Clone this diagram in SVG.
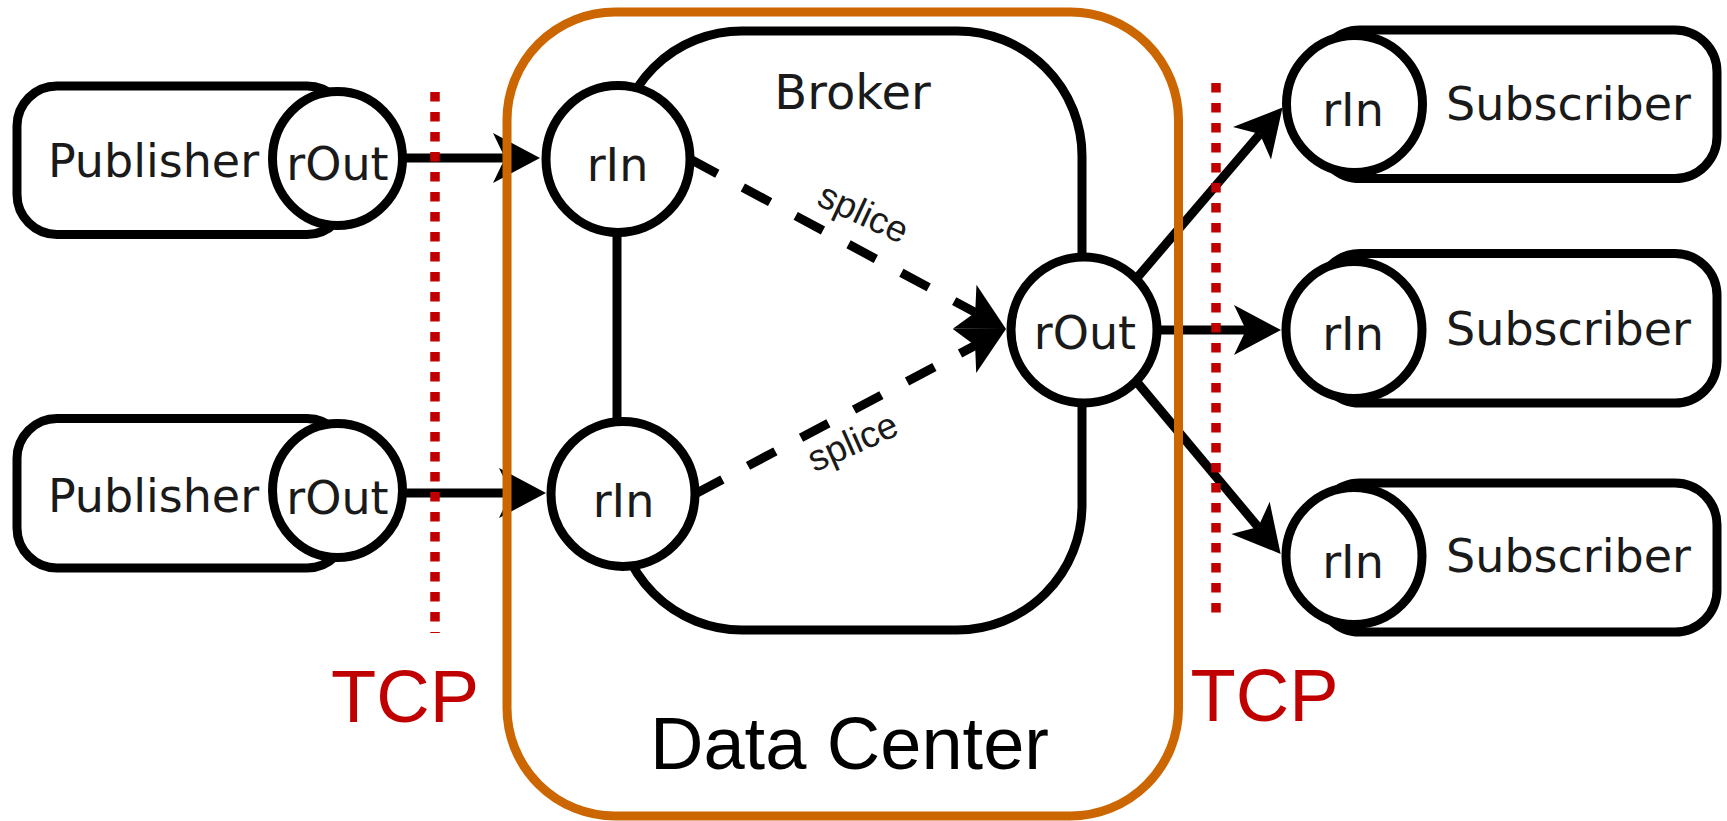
<svg xmlns="http://www.w3.org/2000/svg" width="1727" height="821" viewBox="0 0 1727 821">
  <style>
    .box { fill: #ffffff; stroke: #000000; stroke-width: 9; }
    .port { fill: #ffffff; stroke: #000000; stroke-width: 9; }
    .lbl { font-family: "DejaVu Sans", Verdana, sans-serif; font-size: 46px; fill: #1a1a1a; text-anchor: middle; }
    .edge { fill: none; stroke: #000000; stroke-width: 9; }
    .dash { stroke-dasharray: 31 29; }
    .splice { font-family: "Liberation Sans", Arial, sans-serif; font-size: 37px; fill: #1a1a1a; text-anchor: middle; }
    .tcp { fill: none; stroke: #C00000; stroke-width: 9.5; stroke-dasharray: 9.5 10.5; }
    .tcplbl { font-family: "Liberation Sans", Arial, sans-serif; font-size: 74px; fill: #C00000; text-anchor: middle; }
    .dc { fill: none; stroke: #CC6600; stroke-width: 9; }
    .dclbl { font-family: "Liberation Sans", Arial, sans-serif; font-size: 74px; fill: #000000; text-anchor: middle; }
  </style>
  <defs>
    <marker id="arrow" markerUnits="userSpaceOnUse" markerWidth="60" markerHeight="60" refX="0" refY="0" orient="auto" overflow="visible">
      <path d="M35,0 L-12,-25 L0,0 L-12,25 Z" fill="#000000" stroke="none"/>
    </marker>
  </defs>
  <rect x="0" y="0" width="1727" height="821" fill="#ffffff"/>

  <g id="publisher1">
    <rect class="box" x="17" y="86" width="330" height="148.5" rx="40"/>
    <text class="lbl" x="153.5" y="177">Publisher</text>
    <ellipse class="port" cx="337.5" cy="158.5" rx="65" ry="67"/>
    <text class="lbl" x="337.5" y="180">rOut</text>
  </g>
  <g id="publisher2">
    <rect class="box" x="17" y="418.5" width="330" height="149.5" rx="40"/>
    <text class="lbl" x="153.5" y="512">Publisher</text>
    <ellipse class="port" cx="337.5" cy="490.5" rx="65" ry="67"/>
    <text class="lbl" x="337.5" y="514">rOut</text>
  </g>

  <g id="broker">
    <rect class="box" x="617" y="31" width="465" height="599" rx="125"/>
    <text class="lbl" x="852.5" y="109" style="font-size:48px">Broker</text>
  </g>
  <g id="broker-rIn1">
    <ellipse class="port" cx="618" cy="159" rx="72" ry="73.5"/>
    <text class="lbl" x="617.5" y="181">rIn</text>
  </g>
  <g id="broker-rIn2">
    <ellipse class="port" cx="623" cy="494" rx="72" ry="72.5"/>
    <text class="lbl" x="623.5" y="517">rIn</text>
  </g>
  <g id="broker-rOut">
    <ellipse class="port" cx="1084" cy="330" rx="73" ry="73"/>
    <text class="lbl" x="1085" y="349">rOut</text>
  </g>

  <g id="subscriber1">
    <rect class="box" x="1318" y="30" width="399" height="148.5" rx="42"/>
    <text class="lbl" x="1568.5" y="120">Subscriber</text>
    <ellipse class="port" cx="1354.5" cy="104" rx="68" ry="68.5"/>
    <text class="lbl" x="1353" y="126">rIn</text>
  </g>
  <g id="subscriber2">
    <rect class="box" x="1318" y="253.5" width="399" height="149.5" rx="42"/>
    <text class="lbl" x="1568.5" y="345">Subscriber</text>
    <ellipse class="port" cx="1354" cy="330" rx="68" ry="68.5"/>
    <text class="lbl" x="1353" y="350">rIn</text>
  </g>
  <g id="subscriber3">
    <rect class="box" x="1318" y="483" width="399" height="149" rx="42"/>
    <text class="lbl" x="1568.5" y="572">Subscriber</text>
    <ellipse class="port" cx="1354" cy="556" rx="68" ry="68.5"/>
    <text class="lbl" x="1353" y="578">rIn</text>
  </g>

  <g id="connectors">
    <path class="edge" d="M404,158 L505,158" marker-end="url(#arrow)"/>
    <path class="edge" d="M404,493 L511,493" marker-end="url(#arrow)"/>
    <path class="edge dash" d="M690,159 L975.2,312.4" marker-end="url(#arrow)"/>
    <path class="edge dash" d="M695,494 L975.1,345.4" marker-end="url(#arrow)"/>
    <text class="splice" transform="translate(862,216) rotate(25)" x="0" y="9">splice</text>
    <text class="splice" transform="translate(854,445) rotate(-24)" x="0" y="9">splice</text>
    <path class="edge" d="M1136,279 L1259.8,134.1" marker-end="url(#arrow)"/>
    <path class="edge" d="M1157,330 L1246,330" marker-end="url(#arrow)"/>
    <path class="edge" d="M1136,381 L1258.2,527.1" marker-end="url(#arrow)"/>
  </g>

  <g id="tcp-left">
    <line class="tcp" x1="435" y1="92" x2="435" y2="633"/>
    <text class="tcplbl" x="405" y="722">TCP</text>
  </g>
  <g id="tcp-right">
    <line class="tcp" x1="1216" y1="83" x2="1216" y2="613"/>
    <text class="tcplbl" x="1264.5" y="721">TCP</text>
  </g>

  <g id="data-center">
    <rect class="dc" x="507" y="12" width="671.5" height="804" rx="108"/>
    <text class="dclbl" x="849.5" y="769">Data Center</text>
  </g>
</svg>
